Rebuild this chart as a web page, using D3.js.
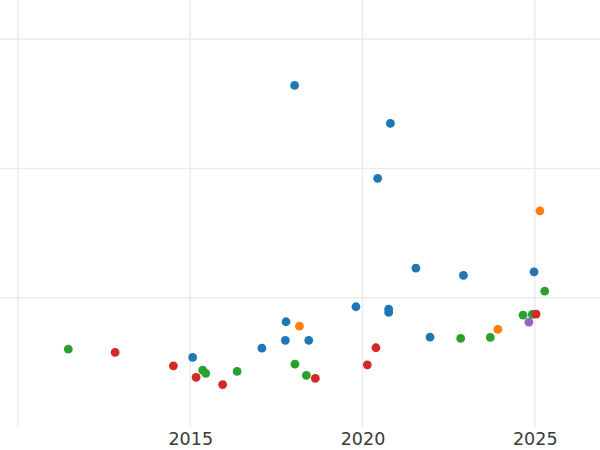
<!DOCTYPE html>
<html>
<head>
<meta charset="utf-8">
<script src="https://cdn.jsdelivr.net/npm/d3@7"></script>
<style>
  html, body { margin: 0; padding: 0; background: #fff; }
  svg { display: block; }
</style>
</head>
<body>
<svg id="chart" width="600" height="450"></svg>
<script>
// ---- data ----
const seriesNames = ["blue", "orange", "green", "red", "purple"];
const seriesColors = ["#1f77b4", "#ff7f0e", "#2ca02c", "#d62728", "#9467bd"];

const blueYears  = [2018.03, 2020.81, 2020.44, 2021.55, 2022.93, 2024.98, 2019.81, 2020.76, 2020.76, 2021.96, 2017.78, 2017.76, 2018.44, 2017.08, 2015.07];
const blueValues = [2.642, 2.348, 1.923, 1.229, 1.172, 1.200, 0.930, 0.912, 0.886, 0.695, 0.814, 0.670, 0.670, 0.610, 0.538];

const orangeYears  = [2025.15, 2018.17, 2023.93];
const orangeValues = [1.672, 0.780, 0.755];

const greenYears  = [2011.46, 2015.36, 2015.45, 2016.36, 2018.04, 2018.37, 2022.85, 2023.71, 2024.66, 2024.93, 2025.29];
const greenValues = [0.602, 0.440, 0.415, 0.430, 0.486, 0.399, 0.685, 0.693, 0.865, 0.871, 1.051];

const redYears  = [2012.82, 2014.51, 2015.17, 2015.94, 2018.63, 2020.14, 2020.39, 2025.04];
const redValues = [0.577, 0.473, 0.384, 0.328, 0.376, 0.481, 0.613, 0.873];

const purpleYears  = [2024.83];
const purpleValues = [0.811];

const xTicks = [2010, 2015, 2020, 2025];
const xTickLabels = ["", "2015", "2020", "2025"];
const yGridTicks = [1, 2, 3];

// ---- build ----
const allYears = [blueYears, orangeYears, greenYears, redYears, purpleYears];
const allValues = [blueValues, orangeValues, greenValues, redValues, purpleValues];
const series = seriesNames.map((n, i) => ({
  name: n, color: seriesColors[i],
  points: allYears[i].map((yr, j) => ({ x: yr, y: allValues[i][j] }))
}));

const svg = d3.select("#chart");
const W = 600, H = 450;
const plot = { left: 0, right: 600, top: 0, bottom: 427 };

const pxPerYear = 172.25 / 5;
const x = d3.scaleLinear()
  .domain([2010 - 18 / pxPerYear, 2010 + 582 / pxPerYear])
  .range([plot.left, plot.right]);
const y = d3.scaleLinear()
  .domain([0, 427 / 129.3])
  .range([plot.bottom, plot.top]);

svg.append("rect").attr("width", W).attr("height", H).attr("fill", "#fff");

// grid
const grid = svg.append("g");
grid.selectAll("line.v").data(xTicks).enter().append("line")
  .attr("x1", d => x(d)).attr("x2", d => x(d))
  .attr("y1", plot.top).attr("y2", plot.bottom)
  .attr("stroke", "#ebebeb").attr("stroke-width", 1.5);
grid.selectAll("line.h").data(yGridTicks).enter().append("line")
  .attr("x1", plot.left).attr("x2", plot.right)
  .attr("y1", d => y(d)).attr("y2", d => y(d))
  .attr("stroke", "#ebebeb").attr("stroke-width", 1.5);

// x axis labels
const xAxis = d3.axisBottom(x).tickValues(xTicks)
  .tickFormat((d, i) => xTickLabels[i]).tickSize(0).tickPadding(6);
const gx = svg.append("g").attr("transform", `translate(0,${plot.bottom})`).call(xAxis);
gx.select(".domain").remove();
gx.selectAll("text")
  .attr("font-family", "DejaVu Sans, sans-serif")
  .attr("font-size", 17.5)
  .attr("fill", "#3a3a3a");

// points
const pts = svg.append("g");
series.forEach(s => {
  pts.append("g").selectAll("circle").data(s.points).enter().append("circle")
    .attr("cx", d => x(d.x)).attr("cy", d => y(d.y))
    .attr("r", 4.4)
    .attr("fill", s.color);
});
</script>
</body>
</html>
